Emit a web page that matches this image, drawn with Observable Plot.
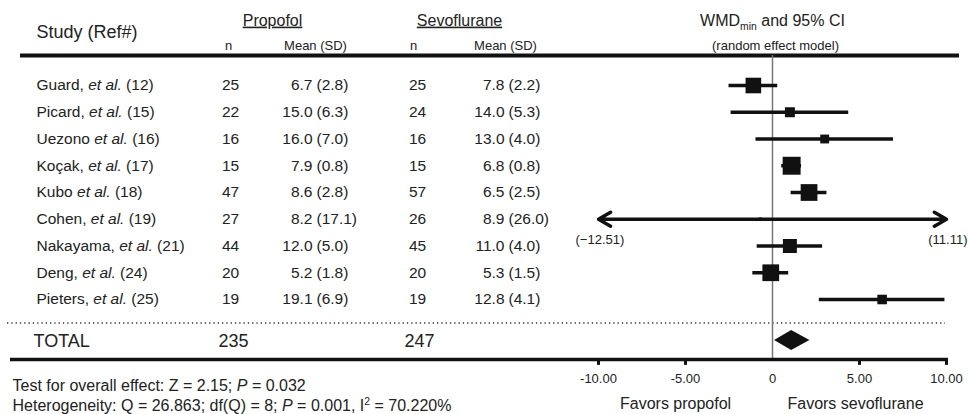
<!DOCTYPE html>
<html>
<head>
<meta charset="utf-8">
<script src="https://cdn.jsdelivr.net/npm/d3@7"></script>
<script src="https://cdn.jsdelivr.net/npm/@observablehq/plot@0.6"></script>
<style>
  html, body { margin: 0; padding: 0; background: #fff; }
</style>
</head>
<body>
<div id="chart"></div>
<script>
// ---- data ----
const studies = ["Guard, *et al.* (12)", "Picard, *et al.* (15)", "Uezono *et al.* (16)", "Koçak, *et al.* (17)", "Kubo *et al.* (18)", "Cohen, *et al.* (19)", "Nakayama, *et al.* (21)", "Deng, *et al.* (24)", "Pieters, *et al.* (25)"];
const propN = [25, 22, 16, 15, 47, 27, 44, 20, 19];
const propMean = [6.7, 15.0, 16.0, 7.9, 8.6, 8.2, 12.0, 5.2, 19.1];
const propSD = [2.8, 6.3, 7.0, 0.8, 2.8, 17.1, 5.0, 1.8, 6.9];
const sevoN = [25, 24, 16, 15, 57, 26, 45, 20, 19];
const sevoMean = [7.8, 14.0, 13.0, 6.8, 6.5, 8.9, 11.0, 5.3, 12.8];
const sevoSD = [2.2, 5.3, 4.0, 0.8, 2.5, 26.0, 4.0, 1.5, 4.1];
const wmd = [-1.1, 1.0, 3.0, 1.1, 2.1, -0.7, 1.0, -0.1, 6.3];
const ciLow = [-2.5, -2.38, -0.95, 0.53, 1.07, -12.51, -0.88, -1.13, 2.69];
const ciHigh = [0.3, 4.38, 6.95, 1.67, 3.13, 11.11, 2.88, 0.93, 9.91];
const weight = [15.2, 6.2, 4.9, 20.1, 17.5, 0.7, 12.2, 17.5, 5.7];
const totalN = [235, 247];
const summaryWMD = 1.1;
const summaryLow = 0.12;
const summaryHigh = 2.15;
const axisTicks = [-10, -5, 0, 5, 10];
const tickLabels = ["-10.00", "-5.00", "0", "5.00", "10.00"];
const axisLimits = [-10, 10];
const footer = ["Test for overall effect: Z = 2.15; *P* = 0.032", "Heterogeneity: Q = 26.863; df(Q) = 8; *P* = 0.001, I^2^ = 70.220%"];

// ---- layout (rows on the y scale) ----
const ROW = {title: -2.43, head: -1.98, sub: -1.495, topLine: -1.12, dots: 8.879, total: 9.57, diamond: 9.53, axis: 10.243, tickLab: 10.953, favors: 11.888, foot1: 11.215, foot2: 11.963};
const INK = "#111", TXT = "#222";

const rows = studies.map((s, i) => ({
  i, study: s, pn: propN[i], pm: propMean[i], ps: propSD[i],
  sn: sevoN[i], sm: sevoMean[i], ss: sevoSD[i],
  wmd: wmd[i], lo: ciLow[i], hi: ciHigh[i], w: weight[i],
  clipped: ciLow[i] < axisLimits[0] || ciHigh[i] > axisLimits[1]
}));
const inRange = rows.filter(d => !d.clipped);
const clipped = rows.filter(d => d.clipped);
const arrows = clipped.flatMap(d => [
  {y: d.i, x1: d.wmd, x2: Math.max(d.lo, axisLimits[0])},
  {y: d.i, x1: d.wmd, x2: Math.min(d.hi, axisLimits[1])}
]);
const fmtCI = v => "(" + (v < 0 ? "\u2212" + Math.abs(v).toFixed(2) : v.toFixed(2)) + ")";

const H = 0.374; // diamond half-height in rows
const diamond = [
  {y: ROW.diamond - H, x1: summaryWMD, x2: summaryWMD},
  {y: ROW.diamond, x1: summaryLow, x2: summaryHigh},
  {y: ROW.diamond + H, x1: summaryWMD, x2: summaryWMD}
];

function label(t, y, dx, anchor, size, extra = {}) {
  return Plot.text([t], {y, frameAnchor: "left", dx, textAnchor: anchor, fontSize: size, fill: TXT, ...extra});
}
function col(field, dx, anchor, fmt, size = 15.5) {
  return Plot.text(rows, {y: "i", frameAnchor: "left", dx, textAnchor: anchor, fontSize: size, fill: TXT, text: d => fmt(d[field])});
}

const chart = Plot.plot({
  width: 969,
  height: 414,
  margin: 0,
  style: {fontFamily: "'Liberation Sans', Arial, Helvetica, sans-serif", background: "#fff", overflow: "visible"},
  x: {domain: [-10, 10], range: [598, 946], axis: null},
  y: {domain: [-3.1776, 12.2991], range: [0, 414], axis: null},
  r: {type: "sqrt", domain: [0, 20], range: [0, 10.1]},
  marks: [
    // header
    label("Study (Ref#)", ROW.head, 36, "start", 18),
    label("Propofol", ROW.title, 272, "middle", 16),
    label("n", ROW.sub, 228, "middle", 13),
    label("Mean (SD)", ROW.sub, 315, "middle", 13),
    label("Sevoflurane", ROW.title, 459, "middle", 16),
    label("n", ROW.sub, 413, "middle", 13),
    label("Mean (SD)", ROW.sub, 505, "middle", 13),
    Plot.text(["WMD_min_ and 95% CI"], {x: 0, y: ROW.title, fontSize: 16, fill: TXT}),
    Plot.text(["(random effect model)"], {x: 0, dx: 3, y: ROW.sub, fontSize: 13, fill: TXT}),
    Plot.ruleY([ROW.topLine], {insetLeft: 20, insetRight: 10, strokeWidth: 4, stroke: INK}),

    // table rows
    col("study", 36, "start", v => v),
    col("pn", 230, "middle", v => String(v)),
    col("pm", 312, "end", v => v.toFixed(1)),
    col("ps", 316, "start", v => "(" + v.toFixed(1) + ")"),
    col("sn", 417, "middle", v => String(v)),
    col("sm", 504, "end", v => v.toFixed(1)),
    col("ss", 508, "start", v => "(" + v.toFixed(1) + ")"),

    // dotted separator + totals
    Plot.ruleY([ROW.dots], {insetLeft: 7, insetRight: 24, strokeWidth: 1.3, stroke: "#333", strokeDasharray: "1.3 3"}),
    label("TOTAL", ROW.total, 33, "start", 18),
    label(String(totalN[0]), ROW.total, 233, "middle", 18),
    label(String(totalN[1]), ROW.total, 419, "middle", 18),

    // zero line
    Plot.ruleX([0], {y1: ROW.topLine, y2: ROW.axis, stroke: "#777", strokeWidth: 1.5}),

    // study CIs and point estimates
    Plot.ruleY(inRange, {y: "i", x1: "lo", x2: "hi", stroke: INK, strokeWidth: 3.5}),
    Plot.arrow(arrows, {x1: "x1", x2: "x2", y1: "y", y2: "y", stroke: INK, strokeWidth: 3.5, headLength: 6, headAngle: 60}),
    Plot.dot(rows, {x: "wmd", y: "i", r: "w", symbol: "square", fill: INK}),
    Plot.text(clipped, {y: d => d.i + 0.76, frameAnchor: "left", dx: 575, textAnchor: "start", fontSize: 13, fill: TXT, text: d => fmtCI(d.lo)}),
    Plot.text(clipped, {y: d => d.i + 0.76, frameAnchor: "right", dx: -2, textAnchor: "end", fontSize: 13, fill: TXT, text: d => fmtCI(d.hi)}),

    // summary diamond
    Plot.areaX(diamond, {y: "y", x1: "x1", x2: "x2", fill: INK}),

    // axis
    Plot.ruleY([ROW.axis], {insetLeft: 10, insetRight: 21, strokeWidth: 3.5, stroke: INK}),
    Plot.ruleX(axisTicks.filter(t => t !== 0), {y1: ROW.axis, y2: ROW.axis + 0.22, stroke: INK, strokeWidth: 3}),
    Plot.text(axisTicks, {x: d => d, y: ROW.tickLab, text: (d, i) => tickLabels[i], fontSize: 13, fill: TXT}),
    Plot.text(["Favors propofol"], {x: -5.57, y: ROW.favors, fontSize: 16, fill: TXT}),
    Plot.text(["Favors sevoflurane"], {x: 4.77, y: ROW.favors, fontSize: 16, fill: TXT}),

    // footer
    label(footer[0], ROW.foot1, 12, "start", 16),
    label(footer[1], ROW.foot2, 12, "start", 16)
  ]
});

// rich text: *italic*, ^superscript^, _subscript_; underline group names
d3.select(chart).selectAll("text").each(function () {
  const sel = d3.select(this);
  const s = this.textContent;
  if (s === "Propofol" || s === "Sevoflurane") { sel.style("text-decoration", "underline"); return; }
  if (!/[*^_]/.test(s)) return;
  const parts = s.split(/(\*[^*]+\*|\^[^^]+\^|_[^_]+_)/).filter(p => p);
  sel.text(null);
  let shift = 0;
  parts.forEach(p => {
    const t = sel.append("tspan");
    let d = 0;
    if (p[0] === "*") { t.attr("font-style", "italic").text(p.slice(1, -1)); }
    else if (p[0] === "^") { d = -6; t.attr("font-size", "0.65em").text(p.slice(1, -1)); }
    else if (p[0] === "_") { d = 4; t.attr("font-size", "0.65em").text(p.slice(1, -1)); }
    else { t.text(p); }
    if (d - shift !== 0) t.attr("dy", d - shift);
    shift = d;
  });
});

document.getElementById("chart").appendChild(chart);
</script>
</body>
</html>
